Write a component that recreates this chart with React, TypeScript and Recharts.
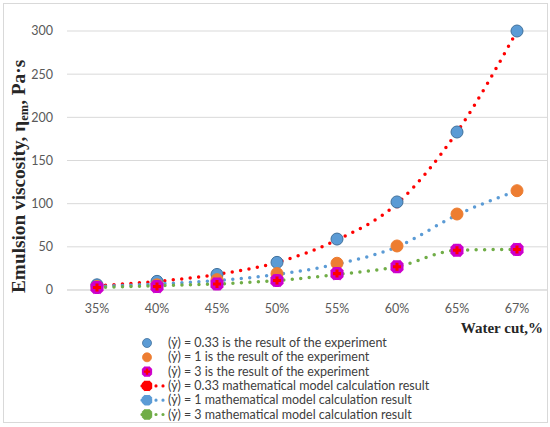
import React from 'react';
import { ComposedChart, Line, XAxis, YAxis, CartesianGrid } from 'recharts';

const categories = ['35%', '40%', '45%', '50%', '55%', '60%', '65%', '67%'];
const exp033 = [6, 10, 18, 32, 59, 102, 183, 300];
const exp1 = [4, 6, 12, 19, 31, 51, 88, 115];
const exp3 = [3, 4, 7, 11, 19, 27, 46, 47];
const model033 = [5, 10, 18, 32, 58, 100, 183, 300];
const model1 = [4, 7, 11, 18, 30, 50, 87, 115];
const model3 = [3, 5, 7, 11, 18, 27, 46, 47];
const yTicks = [0, 50, 100, 150, 200, 250, 300];

const legendLabels = [
  '(ẏ) = 0.33 is the result of the experiment',
  '(ẏ) = 1 is the result of the experiment',
  '(ẏ) = 3 is the result of the experiment',
  '(ẏ) = 0.33 mathematical model calculation result',
  '(ẏ) = 1 mathematical model calculation result',
  '(ẏ) = 3 mathematical model calculation result',
];

const data = categories.map((c, i) => ({
  cat: c,
  e033: exp033[i],
  e1: exp1[i],
  e3: exp3[i],
  m033: model033[i],
  m1: model1[i],
  m3: model3[i],
}));

const BLUE = '#5B9BD5';
const BLUE_DARK = '#41719C';
const ORANGE = '#ED7D31';
const MAGENTA = '#CC00CC';
const RED = '#FF0000';
const MBLUE = '#5B9BD5';
const GREEN = '#70AD47';
const FONT = 'Lato, "Liberation Sans", sans-serif';
const SERIF = '"Liberation Serif", "DejaVu Serif", serif';

const Circle = (color: string, stroke: string) => (props: any) => {
  const { cx, cy, key } = props;
  if (cx == null || cy == null) return null;
  return <circle key={key} cx={cx} cy={cy} r={6} fill={color} stroke={stroke} strokeWidth={1} />;
};

const crossPath = (cx: number, cy: number, s: number) => {
  const a = s, b = s / 2.6;
  return `M${cx - b},${cy - a}H${cx + b}V${cy - b}H${cx + a}V${cy + b}H${cx + b}V${cy + a}H${cx - b}V${cy + b}H${cx - a}V${cy - b}H${cx - b}Z`;
};

const StarMark = (cx: number, cy: number, s: number, key?: any) => (
  <g key={key}>
    <path d={crossPath(cx, cy, s)} fill={MAGENTA} transform={`rotate(45 ${cx} ${cy})`} />
    <path d={crossPath(cx, cy, s * 0.93)} fill={MAGENTA} />
    <path d={crossPath(cx, cy, s * 0.57)} fill={RED} />
  </g>
);

const Star = (props: any) => {
  const { cx, cy, key } = props;
  if (cx == null || cy == null) return null;
  return StarMark(cx, cy, 7, key);
};

const Cross = (color: string) => (props: any) => {
  const { cx, cy, key } = props;
  if (cx == null || cy == null) return null;
  return <path key={key} d={crossPath(cx, cy, 4.5)} fill={color} />;
};

const YLabel = () => (
  <text
    transform="translate(25,293) rotate(-90)"
    textAnchor="start"
    fontFamily={SERIF}
    fontWeight="bold"
    fontSize={19.3}
    fill="#262626"
  >
    <tspan>Emulsion viscosity, η</tspan>
    <tspan fontSize={12.5} dy={3}>em</tspan>
    <tspan dy={-3}>, Pa·s</tspan>
  </text>
);

const LegendBlock = () => {
  const rowH = 14.3;
  const items = [
    { kind: 'circle', color: BLUE, stroke: BLUE_DARK },
    { kind: 'circle', color: ORANGE, stroke: ORANGE },
    { kind: 'star' },
    { kind: 'line', color: RED },
    { kind: 'line', color: MBLUE },
    { kind: 'line', color: GREEN },
  ];
  return (
    <g transform="translate(138 336)">
      {items.map((it, i) => {
        const y = 7 + i * rowH;
        let mark: any = null;
        if (it.kind === 'circle') {
          mark = <circle cx={9} cy={y} r={4.5} fill={it.color} stroke={it.stroke} strokeWidth={0.8} />;
        } else if (it.kind === 'star') {
          mark = StarMark(9, y, 5.5);
        } else {
          mark = (
            <g>
              <line x1={4} y1={y} x2={27} y2={y} stroke={it.color} strokeWidth={3.2} strokeDasharray="0 7" strokeLinecap="round" />
              <path d={crossPath(9, y, 5.5)} fill={it.color} transform={`rotate(45 9 ${y})`} />
              <path d={crossPath(9, y, 5.2)} fill={it.color} />
            </g>
          );
        }
        return (
          <g key={i}>
            {mark}
            <text x={30} y={y + 4} fontFamily={FONT} fontSize={12.5} fill="#404040">
              {legendLabels[i]}
            </text>
          </g>
        );
      })}
    </g>
  );
};

export default function App() {
  return (
    <div style={{ position: 'absolute', left: 0, top: 0, width: 550, height: 427, background: '#fff' }}>
      <svg width={550} height={427} style={{ position: 'absolute', left: 0, top: 0 }}>
        <rect x={3.5} y={3.5} width={544} height={419} fill="#fff" stroke="#D9D9D9" strokeWidth={1} />
      </svg>
      <div style={{ position: 'absolute', left: 0, top: 0 }}>
        <ComposedChart width={550} height={427} data={data} margin={{ top: 31, right: 3, bottom: 107, left: 10 }}>
          <CartesianGrid vertical={false} stroke="#D9D9D9" strokeWidth={1} />
          <XAxis
            dataKey="cat"
            height={30}
            padding={{ left: 30, right: 30 }}
            axisLine={{ stroke: '#D9D9D9' }}
            tickLine={false}
            tick={{ fill: '#595959', fontSize: 12.5, fontFamily: FONT }}
            tickMargin={8}
            interval={0}
          />
          <YAxis
            width={57}
            domain={[0, 300]}
            ticks={yTicks}
            axisLine={false}
            tickLine={false}
            tick={{ fill: '#595959', fontSize: 12.5, fontFamily: FONT }}
            tickMargin={8}
          />
          <Line type="monotone" dataKey="m033" stroke={RED} strokeWidth={3.5} strokeDasharray="0 8.5" strokeLinecap="round" dot={Cross(RED)} isAnimationActive={false} />
          <Line type="monotone" dataKey="m1" stroke={MBLUE} strokeWidth={3.5} strokeDasharray="0 8.5" strokeLinecap="round" dot={Cross(MBLUE)} isAnimationActive={false} />
          <Line type="monotone" dataKey="m3" stroke={GREEN} strokeWidth={3.5} strokeDasharray="0 8.5" strokeLinecap="round" dot={Cross(GREEN)} isAnimationActive={false} />
          <Line dataKey="e033" stroke="none" dot={Circle(BLUE, BLUE_DARK)} isAnimationActive={false} />
          <Line dataKey="e1" stroke="none" dot={Circle(ORANGE, ORANGE)} isAnimationActive={false} />
          <Line dataKey="e3" stroke="none" dot={Star} isAnimationActive={false} />
        </ComposedChart>
      </div>
      <svg width={550} height={427} style={{ position: 'absolute', left: 0, top: 0, pointerEvents: 'none' }}>
        <YLabel />
        <text x={543} y={333} textAnchor="end" fontFamily={SERIF} fontWeight="bold" fontSize={15} fill="#262626">
          Water cut,%
        </text>
        <LegendBlock />
      </svg>
    </div>
  );
}
